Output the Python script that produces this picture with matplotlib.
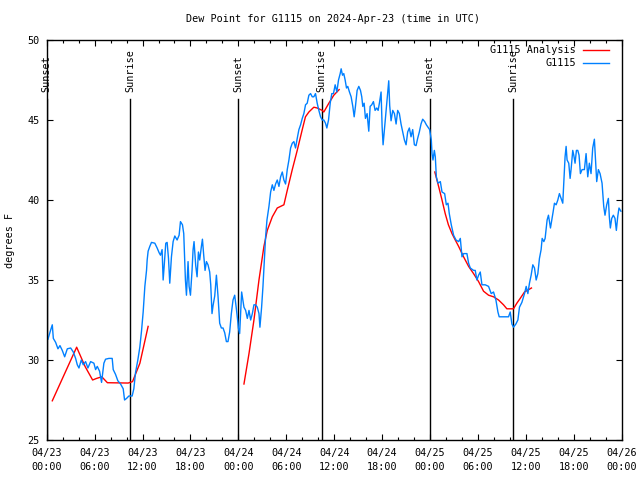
import numpy as np
import matplotlib
matplotlib.use("Agg")
import matplotlib.pyplot as plt
from matplotlib.ticker import MultipleLocator, FixedLocator

plt.rcParams['font.family'] = ['DejaVu Sans Mono']
FS = 7.3

# Hours since 2024-04-23 00:00 UTC
obs_hours = [0.16,0.45,0.7,0.83,1.12,1.41,1.66,1.95,2.25,2.58,3.0,3.33,3.62,3.83,4.04,4.33,4.58,4.87,5.16,5.5,
5.91,6.12,6.33,6.62,6.87,7.16,7.37,7.79,8.2,8.33,8.62,8.91,9.25,9.58,9.75,10.0,10.29,10.7,10.91,11.12,
11.41,11.66,11.87,12.08,12.29,12.5,12.58,12.7,12.91,13.12,13.54,13.83,14.08,14.25,14.45,14.58,14.7,14.91,15.08,15.25,
15.41,15.62,15.83,16.04,16.33,16.58,16.75,17.0,17.16,17.37,17.5,17.7,17.83,18.0,18.2,18.33,18.45,18.66,18.83,19.0,
19.16,19.37,19.5,19.66,19.83,20.0,20.2,20.41,20.54,20.7,20.83,21.04,21.25,21.45,21.66,21.87,22.08,22.29,22.5,22.7,
22.91,23.12,23.33,23.54,23.75,23.95,24.0,24.16,24.41,24.7,24.91,25.12,25.33,25.54,25.75,25.95,26.16,26.37,26.58,26.7,
26.91,27.08,27.25,27.41,27.58,27.83,28.04,28.25,28.45,28.66,28.87,29.08,29.29,29.5,29.7,29.91,30.12,30.33,30.54,30.75,
30.95,31.16,31.37,31.58,31.79,32.0,32.2,32.41,32.62,32.83,33.04,33.25,33.45,33.66,33.87,34.08,34.29,34.5,34.7,34.91,
35.08,35.29,35.5,35.7,35.91,36.12,36.33,36.54,36.75,36.87,37.04,37.2,37.37,37.54,37.7,37.91,38.12,38.33,38.5,38.66,
38.87,39.08,39.29,39.45,39.58,39.75,39.91,40.12,40.33,40.5,40.7,40.91,41.12,41.33,41.5,41.66,41.87,42.0,42.12,42.29,
42.5,42.7,42.83,42.95,43.12,43.33,43.54,43.75,43.95,44.16,44.37,44.58,44.79,45.0,45.2,45.41,45.62,45.83,46.04,46.25,
46.45,46.66,46.87,47.08,47.33,47.54,47.75,47.95,48.16,48.25,48.37,48.54,48.66,48.79,49.0,49.29,49.5,49.83,50.04,50.25,
50.41,50.66,50.95,51.25,51.58,51.79,52.0,52.2,52.62,52.83,53.04,53.45,53.66,53.87,54.08,54.29,54.5,54.91,55.33,55.66,
55.95,56.25,56.5,56.66,57.2,57.83,58.04,58.25,58.45,58.75,59.0,59.2,59.5,59.83,60.04,60.25,60.45,60.66,60.87,61.08,
61.29,61.5,61.7,61.91,62.04,62.25,62.41,62.66,62.83,63.08,63.25,63.41,63.58,63.79,64.0,64.2,64.41,64.62,64.75,64.91,
65.04,65.16,65.37,65.54,65.66,65.87,66.0,66.16,66.33,66.5,66.66,66.83,67.04,67.33,67.54,67.75,67.95,68.16,68.37,68.58,
68.7,68.87,69.08,69.29,69.54,69.75,69.91,70.12,70.33,70.45,70.58,70.75,70.95,71.16,71.33,71.5,71.66,71.9]
obs_dewpt = [31.3,31.8,32.2,31.35,31.1,30.7,30.9,30.6,30.2,30.7,30.75,30.5,30.1,29.7,29.5,30.0,29.7,29.9,29.5,29.9,
29.8,29.4,29.6,29.3,28.6,29.8,30.05,30.1,30.1,29.4,29.1,28.7,28.5,28.2,27.5,27.6,27.75,27.75,28.2,29.2,
30.0,30.8,31.8,33.0,34.6,35.6,36.25,36.8,37.1,37.35,37.3,37.0,36.7,36.55,36.9,35.0,35.8,37.3,37.35,36.35,
34.8,36.45,37.4,37.75,37.5,37.8,38.65,38.45,37.9,35.0,34.05,36.15,34.6,34.05,35.6,36.9,37.4,35.9,35.2,36.75,
36.25,37.1,37.55,36.55,35.6,36.15,35.95,35.5,34.7,32.9,33.4,34.0,35.3,34.0,32.3,32.0,32.0,31.7,31.15,31.15,
31.75,32.9,33.75,34.05,33.2,32.3,32.0,31.65,34.25,33.3,33.1,32.6,33.1,32.5,32.9,33.45,33.45,33.3,32.9,32.05,
33.3,34.6,36.25,37.7,38.75,39.6,40.5,40.95,40.6,41.0,41.25,40.85,41.45,41.75,41.25,41.0,41.9,42.5,43.25,43.55,
43.65,43.25,43.85,44.4,44.7,45.1,45.4,45.95,46.05,46.55,46.65,46.45,46.45,46.65,46.05,45.6,45.2,45.0,45.0,44.8,
44.5,45.0,46.05,46.65,46.65,47.2,46.75,47.5,47.9,48.2,47.8,47.9,47.5,47.0,47.1,46.75,46.45,45.85,45.2,45.85,
46.85,47.1,46.85,46.45,45.85,46.05,45.1,45.4,44.3,45.85,45.95,46.15,45.6,45.75,45.6,46.05,46.75,44.6,43.45,44.4,
45.6,46.65,47.45,45.9,44.95,45.6,45.4,44.75,45.6,45.4,44.75,44.25,43.75,43.45,44.25,44.5,43.95,44.4,43.45,43.4,
43.85,44.25,44.75,45.05,44.9,44.7,44.55,44.4,43.75,42.9,42.5,43.1,42.7,41.45,41.05,41.15,40.5,40.4,39.7,39.8,
39.15,38.45,37.8,37.5,37.4,37.6,36.45,36.65,36.65,36.05,35.75,35.6,35.6,35.0,35.3,35.5,34.7,34.7,34.6,34.15,
34.25,33.75,33.0,32.7,32.7,32.7,33.0,32.25,32.05,32.25,32.5,33.3,33.6,34.15,34.6,34.15,34.8,35.3,35.95,35.75,
35.0,35.4,36.35,36.9,37.6,37.4,37.6,38.75,39.05,38.25,38.75,39.25,39.8,39.7,40.0,40.4,40.1,39.8,41.05,42.7,
43.35,42.5,42.3,41.35,41.9,43.1,42.8,42.3,43.1,43.1,42.8,41.65,41.9,41.9,42.9,41.45,42.3,41.65,43.25,43.8,
42.7,41.15,41.9,41.65,41.05,39.6,39.05,39.7,40.1,38.95,38.25,38.85,39.05,38.85,38.1,38.95,39.5,39.3]

ana_hours = [0.7,3.75,4.8,5.75,6.25,6.9,7.6,10.2,10.75,11.67,12.7, 13.0,
24.7,25.33,25.95,26.58,27.2,27.62,28.25,28.87,29.7,30.12,30.75,31.37,32.0,32.4,32.83,33.45,33.87,34.5,34.7,35.33,35.95,36.62, 37.0,
48.6,49.1,49.5,49.9,50.3,50.75,51.16,51.58,52.2,52.83,53.45,54.08,54.7,55.33,55.95,56.58,57.2,57.62,58.45,58.87,59.29,59.83,60.7]
ana_dewpt = [27.45,30.8,29.6,28.75,28.85,28.95,28.58,28.56,28.65,29.8,32.1, np.nan,
28.5,30.4,32.5,35.0,37.1,38.1,38.95,39.5,39.7,40.6,41.9,43.1,44.4,45.2,45.5,45.8,45.75,45.6,45.5,46.05,46.55,46.9, np.nan,
41.75,40.8,40.0,39.15,38.45,37.9,37.5,37.1,36.45,35.85,35.4,34.9,34.3,34.05,33.95,33.75,33.45,33.2,33.2,33.55,33.85,34.25,34.5]

sun_hours = [0.0, 10.45, 23.97, 34.45, 47.97, 58.4]
sun_labels = ["Sunset", "Sunrise", "Sunset", "Sunrise", "Sunset", "Sunrise"]

xtick_hours = [0, 6, 12, 18, 24, 30, 36, 42, 48, 54, 60, 66, 72]
xtick_labels = ["04/23\n00:00", "04/23\n06:00", "04/23\n12:00", "04/23\n18:00",
                "04/24\n00:00", "04/24\n06:00", "04/24\n12:00", "04/24\n18:00",
                "04/25\n00:00", "04/25\n06:00", "04/25\n12:00", "04/25\n18:00",
                "04/26\n00:00"]

fig = plt.figure(figsize=(6.4, 4.8), dpi=100)
ax = fig.add_axes([46.7/640, 40/480, (621.7-46.7)/640, 400/480])

for h, lab in zip(sun_hours, sun_labels):
    ax.axvline(h, ymin=0, ymax=0.8525, color='black', lw=1.0)
    ax.text(h, 0.87, lab, transform=ax.get_xaxis_transform(), rotation=90,
            ha='center', va='bottom', fontsize=FS)

ax.plot(ana_hours, ana_dewpt, color='#ff0000', lw=1.0, label='G1115 Analysis')
ax.plot(obs_hours, obs_dewpt, color='#0080ff', lw=1.0, label='G1115')

ax.set_xlim(0, 72)
ax.set_ylim(25, 50)
ax.xaxis.set_major_locator(FixedLocator(xtick_hours))
ax.set_xticklabels(xtick_labels, fontsize=FS, linespacing=1.45)
ax.xaxis.set_minor_locator(MultipleLocator(2))
ax.yaxis.set_major_locator(MultipleLocator(5))
ax.tick_params(axis='y', labelsize=FS)
ax.tick_params(which='both', direction='in', top=True, right=True, width=0.8)
ax.tick_params(which='major', length=4.5, pad=5)
ax.tick_params(axis='x', which='major', pad=6)
ax.tick_params(which='minor', length=2.5)
for s in ax.spines.values():
    s.set_linewidth(1.0)

leg = ax.legend(loc='upper right', bbox_to_anchor=(0.985, 0.9975), frameon=False,
                markerfirst=False, fontsize=FS,
                handlelength=2.6, handletextpad=0.65, labelspacing=0.3,
                borderaxespad=0.0, borderpad=0.4)

fig.text(333/640, 1 - 19/480, "Dew Point for G1115 on 2024-Apr-23 (time in UTC)",
         ha='center', va='center', fontsize=FS)
fig.text(10/640, 0.5, "degrees F", rotation=90, ha='center', va='center', fontsize=FS)

fig.savefig("out.png", dpi=100)
